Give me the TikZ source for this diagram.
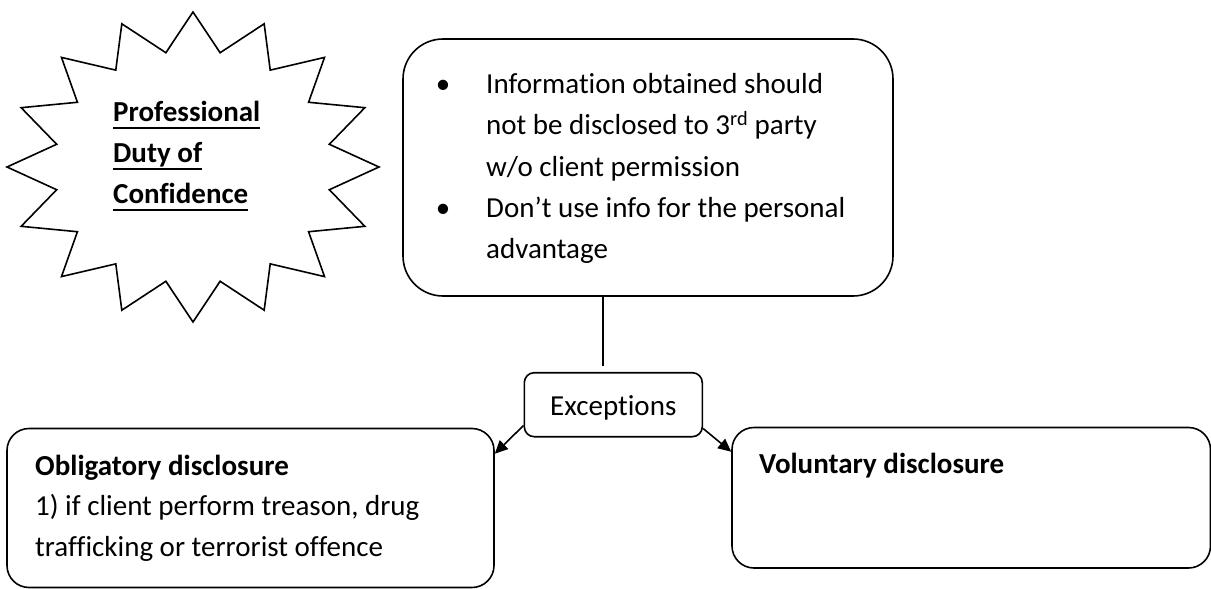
\documentclass[tikz,border=0pt]{standalone}
\usepackage{fontspec}
\setmainfont{Carlito}[Ligatures=NoCommon]
\usetikzlibrary{arrows.meta}

% underline at a fixed depth below the baseline, crossing descenders
\newsavebox\ulbox
\newcommand{\wul}[1]{\sbox\ulbox{#1}\rlap{\rule[-7.7pt]{\wd\ulbox}{2pt}}\usebox\ulbox}

\begin{document}
\begin{tikzpicture}[x=1pt,y=-1pt,
  every node/.style={font=\fontsize{29pt}{41.4pt}\selectfont, inner sep=0pt},
  outline/.style={draw=black, line width=1.6pt},
  txt/.style={anchor=base west},
  boldtxt/.style={anchor=base west, font=\fontsize{29pt}{41.4pt}\selectfont\bfseries},
  dot/.style={anchor=base},
  conn/.style={line width=1.6pt, -{Triangle[length=13pt,width=12pt]}}]
\useasboundingbox (0,0) rectangle (1211,589);
\fill[white] (0,0) rectangle (1211,589);

% sixteen-pointed star with its caption
\draw[outline, line join=miter]
  plot[domain=0:31, samples=32]
  ({193+(162.5+23.5*cos(\x*180))*cos(90+\x*11.25)},
   {167-(135.75+19.25*cos(\x*180))*sin(90+\x*11.25)}) -- cycle;
\node[boldtxt] (s1) at (113,121) {\wul{Professional}};
\node[boldtxt] (s2) at (113,162) {\wul{Duty of}};
\node[boldtxt] (s3) at (113,203) {\wul{Confidence}};

% duty box
\node[outline, rounded corners=40pt, minimum width=490pt, minimum height=257pt] (top) at (648,167.5) {};
\node[dot] (b1) at (443,93.3) {•};
\node[txt] (t1) at (486,93.3) {Information obtained should};
\node[txt] (t2) at (486,134.7) {not be disclosed to 3\textsuperscript{rd} party};
\node[txt] (t3) at (486,176.1) {w/o client permission};
\node[dot] (b2) at (443,217.5) {•};
\node[txt] (t4) at (486,217.5) {Don’t use info for the personal};
\node[txt] (t5) at (486,258.9) {advantage};

% exceptions
\node[outline, rounded corners=10pt, minimum width=178pt, minimum height=64pt,
      text height=27.6pt, text depth=7pt] (exc) at (613.3,404.7) {Exceptions};

% disclosure boxes
\node[outline, rounded corners=22pt, minimum width=487pt, minimum height=159pt] (obl) at (250.5,508) {};
\node[boldtxt] (o1) at (35,475) {Obligatory disclosure};
\node[txt] (o2) at (35,515) {1) if client perform treason, drug};
\node[txt] (o3) at (35,556) {trafficking or terrorist offence};

\node[outline, rounded corners=22pt, minimum width=478.5pt, minimum height=140.5pt] (vol) at (971.25,497.75) {};
\node[boldtxt] (v1) at (759,473.5) {Voluntary disclosure};

% connectors
\coordinate (stem) at (603,366);
\draw[line width=1.6pt] (stem |- top.south) -- (stem);
\draw[conn] ([yshift=12pt]exc.south west) -- ([yshift=-26pt]obl.north east);
\draw[conn] ([yshift=9pt]exc.south east) -- ([yshift=-25pt]vol.north west);
\end{tikzpicture}
\end{document}
